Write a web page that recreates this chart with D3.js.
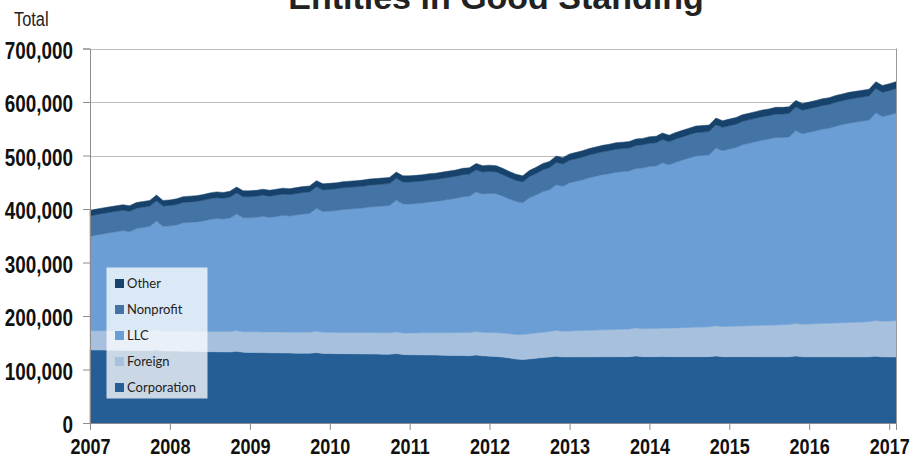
<!DOCTYPE html>
<html><head><meta charset="utf-8">
<script src="https://cdn.jsdelivr.net/npm/d3@7"></script>
<style>body{margin:0;background:#fff} svg{display:block}</style>
</head><body><svg id="chart" width="922" height="460"></svg>
<script>
// Monthly data, Jan 2007 .. Feb 2017 (values in thousands of entities)
const months = d3.timeMonth.range(new Date(2007,0,1), new Date(2017,2,1));
const yearLabels = ["2007","2008","2009","2010","2011","2012","2013","2014","2015","2016","2017"];
const yTickValues = [0,100000,200000,300000,400000,500000,600000,700000];
const seriesNames = ["Corporation","Foreign","LLC","Nonprofit","Other"];
const seriesColors = ["#255e95","#a7c0de","#6a9ed4","#4473a5","#17426b"];

const corporation = [
136.5,136.4,136.3,136.2,136.0,135.9,135.7,135.6,135.4,135.2,136.6,135.0,
134.6,134.4,134.2,134.0,133.8,133.5,133.3,133.1,132.9,132.7,134.0,132.3,
132.0,131.8,131.6,131.4,131.2,131.0,130.8,130.6,130.4,130.2,131.6,130.0,
129.8,129.6,129.5,129.4,129.3,129.2,129.0,128.8,128.6,128.4,129.8,128.0,
127.7,127.5,127.3,127.1,126.9,126.7,126.4,126.2,126.0,125.8,127.0,125.5,
125.0,124.3,123.2,121.5,119.5,118.8,119.8,121.2,122.4,123.2,124.8,123.5,
123.5,123.6,123.6,123.7,123.7,123.8,123.8,123.9,123.9,124.0,125.2,124.0,
124.0,124.0,124.1,124.0,124.0,124.0,124.0,124.0,124.0,124.0,125.3,124.0,
123.9,123.9,123.9,123.9,123.9,123.8,123.8,123.8,123.8,123.8,125.2,123.8,
123.7,123.7,123.7,123.7,123.7,123.6,123.6,123.6,123.6,123.6,125.0,123.5,
123.5,123.5];
const foreign = [
36.0,36.1,36.1,36.2,36.3,36.4,36.4,36.5,36.6,36.7,37.2,36.8,
36.9,37.0,37.1,37.3,37.4,37.6,37.7,37.9,38.0,38.2,38.7,38.4,
38.5,38.6,38.7,38.8,38.9,39.0,39.1,39.2,39.3,39.4,39.9,39.5,
39.6,39.7,39.7,39.8,39.8,39.9,40.0,40.0,40.1,40.2,40.7,40.4,
40.6,40.9,41.2,41.5,41.8,42.1,42.4,42.7,43.0,43.3,43.9,43.8,
44.2,44.6,45.0,45.4,45.9,46.4,46.8,47.1,47.4,47.6,48.3,48.2,
48.6,49.0,49.3,49.6,49.9,50.3,50.7,51.1,51.5,51.9,52.5,52.3,
52.5,52.8,53.1,53.4,53.8,54.2,54.6,55.0,55.4,55.8,56.5,56.3,
56.7,57.1,57.5,57.9,58.3,58.7,59.1,59.5,59.9,60.3,61.0,60.8,
61.3,61.8,62.3,62.8,63.3,63.8,64.3,64.8,65.3,65.8,66.6,66.5,
67.0,67.5];
const llc = [
176.0,179.1,181.1,183.2,185.2,187.3,185.5,191.4,193.5,195.7,203.7,195.7,
197.0,198.9,203.0,203.9,204.7,206.7,209.6,211.3,210.3,212.2,218.1,213.0,
213.1,214.1,216.0,214.0,216.0,218.1,217.0,219.0,221.0,222.0,229.9,225.8,
226.8,227.9,229.9,230.8,231.8,232.8,234.8,235.9,236.9,238.0,246.1,241.1,
241.1,242.0,242.8,244.7,245.5,247.3,249.3,251.2,254.0,254.9,261.1,258.8,
260.0,259.8,256.1,252.0,249.0,246.4,254.4,257.9,262.7,265.2,272.4,270.6,
277.0,279.3,281.7,285.1,287.7,290.1,291.6,293.9,294.5,294.9,298.1,300.4,
303.1,303.7,309.3,305.1,309.6,313.2,316.7,320.2,320.8,321.4,332.4,328.8,
331.4,334.0,338.5,341.1,343.7,346.3,347.8,350.4,349.9,350.5,360.3,355.9,
358.3,360.7,363.1,364.5,367.9,370.4,372.6,374.0,375.4,376.7,388.3,382.8,
385.1,388.5];
const nonprofit = [
38.3,38.2,38.2,38.1,38.1,38.0,38.0,38.0,38.0,37.9,37.9,37.9,
37.9,38.0,38.0,38.1,38.3,38.4,38.6,38.8,38.9,39.0,39.2,39.3,
39.4,39.5,39.6,39.7,39.8,39.8,39.9,40.0,40.1,40.2,40.3,40.4,
40.5,40.5,40.6,40.6,40.7,40.7,40.8,40.8,40.9,40.9,40.9,41.0,
41.0,41.0,41.1,41.1,41.1,41.2,41.2,41.2,41.2,41.2,41.2,41.1,
41.0,40.6,40.1,39.6,39.2,39.0,39.5,40.2,40.8,41.2,41.6,41.8,
42.0,42.2,42.4,42.6,42.7,42.8,42.9,43.0,43.0,43.1,43.1,43.2,
43.2,43.3,43.3,43.3,43.4,43.4,43.4,43.5,43.5,43.5,43.5,43.6,
43.6,43.6,43.7,43.7,43.7,43.8,43.8,43.8,43.9,43.9,44.0,44.0,
44.1,44.2,44.3,44.4,44.5,44.6,44.8,44.9,45.0,45.2,45.4,45.5,
45.6,45.7];
const other = [
10.2,10.2,10.3,10.3,10.4,10.4,10.4,10.5,10.5,10.5,10.6,10.6,
10.6,10.7,10.7,10.7,10.8,10.8,10.8,10.9,10.9,10.9,11.0,11.0,
11.0,11.0,11.1,11.1,11.1,11.1,11.2,11.2,11.2,11.2,11.3,11.3,
11.3,11.3,11.3,11.4,11.4,11.4,11.4,11.5,11.5,11.5,11.5,11.5,
11.6,11.6,11.6,11.6,11.7,11.7,11.7,11.7,11.8,11.8,11.8,11.8,
11.8,11.7,11.6,11.5,11.4,11.4,11.5,11.6,11.7,11.8,11.9,11.9,
11.9,11.9,12.0,12.0,12.0,12.0,12.0,12.1,12.1,12.1,12.1,12.1,
12.2,12.2,12.2,12.2,12.2,12.2,12.3,12.3,12.3,12.3,12.3,12.3,
12.4,12.4,12.4,12.4,12.4,12.4,12.5,12.5,12.5,12.5,12.5,12.5,
12.6,12.6,12.6,12.6,12.6,12.6,12.7,12.7,12.7,12.7,12.7,12.7,
12.8,12.8];

const seriesValues = [corporation, foreign, llc, nonprofit, other];
const table = months.map((d,i) => {
  const row = {date: d};
  seriesNames.forEach((k,j) => row[k] = seriesValues[j][i]*1000);
  return row;
});

const svg = d3.select("#chart");
const L = 90, R = 896, T = 48.5, B = 423;
const NARROW = "'Liberation Sans Narrow', 'Arial Narrow', 'Liberation Sans', Arial, sans-serif";

const x = d3.scaleTime().domain([months[0], months[months.length-1]]).range([L, R]);
const y = d3.scaleLinear().domain([0, 700000]).range([B, T]);

// gridlines
svg.append("g").selectAll("line").data(yTickValues.filter(v=>v>0)).join("line")
  .attr("x1", L).attr("x2", R).attr("y1", d=>Math.round(y(d))+0.5).attr("y2", d=>Math.round(y(d))+0.5)
  .attr("stroke", "#bdbdbd").attr("stroke-width", 1);

// stacked areas
const stack = d3.stack().keys(seriesNames)(table);
const area = d3.area().x(d=>x(d.data.date)).y0(d=>y(d[0])).y1(d=>y(d[1]));
svg.append("g").selectAll("path").data(stack).join("path")
  .attr("d", area).attr("fill", (d,i)=>seriesColors[i])
  .attr("stroke", (d,i)=>seriesColors[i]).attr("stroke-width", 0.5);

// right border
svg.append("line").attr("x1", R+0.5).attr("x2", R+0.5).attr("y1", T).attr("y2", B)
  .attr("stroke", "#9a9a9a");

// axes
const yAxis = svg.append("g").attr("transform", `translate(${L},0)`)
  .call(d3.axisLeft(y).tickValues(yTickValues).tickSize(7).tickPadding(10).tickFormat(d3.format(",")));
const xAxis = svg.append("g").attr("transform", `translate(0,${B})`)
  .call(d3.axisBottom(x).tickValues(yearLabels.map(s=>new Date(+s,0,1))).tickSize(7).tickPadding(8)
    .tickFormat((d,i)=>yearLabels[i]));
[yAxis, xAxis].forEach(g => {
  g.select(".domain").attr("stroke", "#8c8c8c");
  g.selectAll(".tick line").attr("stroke", "#8c8c8c");
  g.selectAll("text").attr("fill", "#111").attr("font-family", NARROW).attr("font-weight", "bold")
    .classed("narrow", true);
});
yAxis.selectAll("text").attr("font-size", 23).attr("dy", "0.42em");
xAxis.selectAll("text").attr("font-size", 22);

// title and axis caption
svg.append("text").attr("x", 496).attr("y", 9).attr("text-anchor", "middle")
  .attr("font-family", "'Liberation Sans', Arial, sans-serif").attr("font-weight", "bold")
  .attr("font-size", 34).attr("fill", "#222").text("Entities in Good Standing");
svg.append("text").attr("x", 14).attr("y", 26).attr("font-family", NARROW)
  .attr("font-size", 20).attr("fill", "#222").classed("narrow", true).text("Total");

// legend
const lg = svg.append("g");
lg.append("rect").attr("x", 106.5).attr("y", 267.5).attr("width", 101).attr("height", 131)
  .attr("fill", "#fff").attr("fill-opacity", 0.76);
const legendOrder = seriesNames.map((n,i)=>({n, c: seriesColors[i]})).reverse();
const li = lg.selectAll("g.item").data(legendOrder).join("g").attr("class","item")
  .attr("transform", (d,i)=>`translate(115,${279 + i*26})`);
li.append("rect").attr("width", 9).attr("height", 9).attr("fill", d=>d.c);
li.append("text").attr("x", 12).attr("y", 9).attr("font-family", "Lato, 'Open Sans', sans-serif")
  .attr("font-size", 13).attr("fill", "#222").text(d=>d.n);

// fallback if no narrow font installed: compress horizontally
(function(){
  const c = document.createElement("canvas").getContext("2d");
  c.font = "bold 40px monospace"; const a = c.measureText("700,000 Total").width;
  c.font = "bold 40px 'Liberation Sans Narrow', monospace"; const b = c.measureText("700,000 Total").width;
  if (a === b) {
    svg.selectAll("text.narrow").each(function(){
      const w = this.getComputedTextLength();
      this.setAttribute("textLength", (w*0.82).toFixed(1));
      this.setAttribute("lengthAdjust", "spacingAndGlyphs");
    });
  }
})();
</script>
</body></html>
